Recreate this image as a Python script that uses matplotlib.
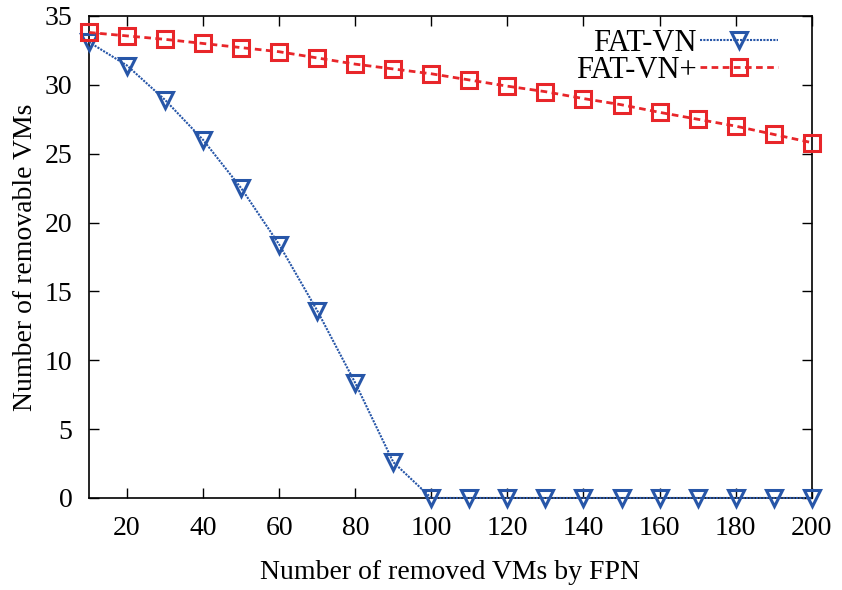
import matplotlib
matplotlib.use("Agg")
import matplotlib.pyplot as plt

x = [10, 20, 30, 40, 50, 60, 70, 80, 90, 100, 110, 120, 130, 140, 150, 160, 170, 180, 190, 200]
fat_vn = [33.1, 31.4, 28.9, 26.0, 22.5, 18.4, 13.6, 8.35, 2.6, 0, 0, 0, 0, 0, 0, 0, 0, 0, 0, 0]
fat_vn_plus = [33.8, 33.55, 33.3, 33.0, 32.7, 32.4, 31.95, 31.5, 31.15, 30.8, 30.35, 29.9, 29.5,
               29.0, 28.55, 28.0, 27.5, 27.0, 26.4, 25.8]
xticks = [20, 40, 60, 80, 100, 120, 140, 160, 180, 200]
yticks = [0, 5, 10, 15, 20, 25, 30, 35]

plt.rcParams['font.family'] = ['Liberation Serif', 'DejaVu Serif']

fig = plt.figure(figsize=(8.42, 5.90), dpi=100)
ax = fig.add_axes([0.1057, 0.156, 0.8583, 0.817])

blue = '#2756a8'
red = '#e8262a'
ax.plot(x, fat_vn, linestyle=(0, (1, 0.6)), color=blue, lw=1.5, marker='v', markersize=12,
        markerfacecolor='none', markeredgecolor=blue, markeredgewidth=2.2, label='FAT-VN', clip_on=False, zorder=3)
ax.plot(x, fat_vn_plus, linestyle=(0, (2.4, 1.6)), color=red, lw=2, marker='s', markersize=12,
        markerfacecolor='none', markeredgecolor=red, markeredgewidth=2.2, label='FAT-VN+', clip_on=False, zorder=3)

ax.set_xlim(10, 200)
ax.set_ylim(0, 35)
ax.set_xticks(xticks)
ax.set_yticks(yticks)
ax.tick_params(direction='in', top=True, right=True, labelsize=20, length=7, width=1)
ax.tick_params(axis='x', pad=13)
ax.tick_params(axis='y', pad=12)
ax.set_xlabel('Number of removed VMs by FPN', fontsize=20, labelpad=14)
ax.set_ylabel('Number of removable VMs', fontsize=20, labelpad=5)
for s in ax.spines.values():
    s.set_linewidth(1.2)

leg = ax.legend(loc='upper right', frameon=False, markerfirst=False, fontsize=22,
                handlelength=2.55, handletextpad=0.1, labelspacing=-0.08, borderaxespad=0,
                borderpad=0, bbox_to_anchor=(0.953, 0.973))

fig.savefig('out.png', dpi=100)
